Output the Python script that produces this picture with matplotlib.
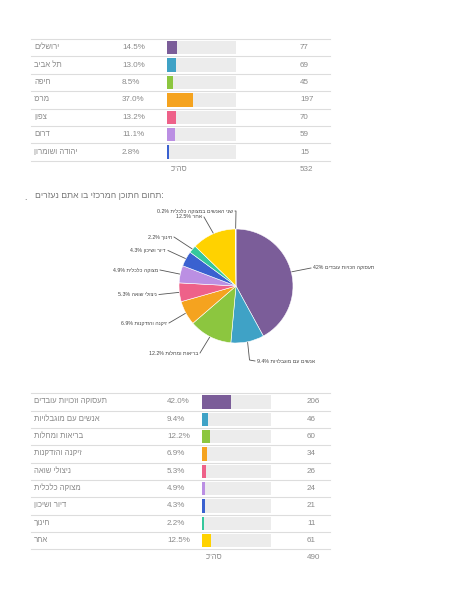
import numpy as np
import matplotlib
matplotlib.use('Agg')
import matplotlib.pyplot as plt

plt.rcParams['font.family'] = ['Liberation Sans', 'DejaVu Sans']

W, H = 463, 599

# --- data -------------------------------------------------------------
region_labels = ['ירושלים', 'תל אביב', 'חיפה', 'מרכז', 'צפון', 'דרום', 'יהודה ושומרון']
region_pcts = [14.5, 13.0, 8.5, 37.0, 13.2, 11.1, 2.8]
region_counts = [77, 69, 45, 197, 70, 59, 15]
region_total = 532
region_colors = ['#7b5d99', '#3fa2c6', '#8cc63f', '#f5a31f', '#ee6189', '#bb8fe3', '#3a61d0']

topic_labels = ['תעסוקה וזכויות עובדים', 'אנשים עם מוגבלויות', 'בריאות ומחלות',
                'זיקנה והזדקנות', 'ניצולי שואה', 'מצוקה כלכלית', 'דיור ושיכון',
                'חינוך', 'אחר']
topic_pcts = [42.0, 9.4, 12.2, 6.9, 5.3, 4.9, 4.3, 2.2, 12.5]
topic_counts = [206, 46, 60, 34, 26, 24, 21, 11, 61]
topic_total = 490
topic_colors = ['#7b5d99', '#3fa2c6', '#8cc63f', '#f5a31f', '#ee6189', '#bb8fe3',
                '#3a61d0', '#35c79c', '#ffd200']

pie_labels = topic_labels + ['שני האנשים במצוקה כלכלית']
pie_pcts = topic_pcts + [0.2]
pie_pct_text = ['42%', '9.4%', '12.2%', '6.9%', '5.3%', '4.9%', '4.3%', '2.2%', '12.5%', '0.2%']
pie_colors = topic_colors + ['#f2f2f2']

title_he = 'תחום התוכן המרכזי בו אתם נעזרים'
total_he = 'סה"כ'

# label layout for the pie (pixel positions: text x, text y, side, optional elbow)
pie_lbl_pos = [(313, 268, 'l', None), (257, 361, 'l', (249.5, 360)), (198, 353, 'r', None),
               (167, 323, 'r', None), (157, 294.5, 'r', None), (158, 270, 'r', None),
               (166, 250.5, 'r', None), (172, 237, 'r', None), (202, 217, 'r', None),
               (233, 211, 'r', (236, 211))]

TXT = '#8a8a8a'
LINE = '#dddddd'
BG = '#ececec'


def vis(s):
    # matplotlib has no bidi support: lay the Hebrew out in visual order
    return s[::-1]


fig = plt.figure(figsize=(W / 100, H / 100), dpi=100)
ax = fig.add_axes([0, 0, 1, 1])
ax.set_xlim(0, W)
ax.set_ylim(H, 0)
ax.axis('off')


def draw_table(top, row_h, labels, pcts, counts, total, colors, x_pct, bx0, bx1, x_cnt):
    n = len(labels)
    for i in range(n + 1):
        ax.plot([31, 330], [top + i * row_h] * 2, color=LINE, lw=0.8)
    for i in range(n):
        yc = top + (i + 0.5) * row_h
        ax.text(34, yc, vis(labels[i]), fontsize=5.6, color=TXT, ha='left', va='center')
        ax.text(x_pct, yc, '%.1f%%' % pcts[i], fontsize=5.8, color=TXT, ha='left', va='center')
        ax.text(x_cnt, yc, str(counts[i]), fontsize=5.8, color=TXT, ha='left', va='center')
    yf = top + n * row_h + 8.5
    ax.text(bx0 + 4, yf, vis(total_he), fontsize=5.6, color=TXT, ha='left', va='center')
    ax.text(x_cnt, yf, str(total), fontsize=5.8, color=TXT, ha='left', va='center')
    bax = fig.add_axes([bx0 / W, 1 - (top + n * row_h) / H, (bx1 - bx0) / W, n * row_h / H])
    rows = np.arange(n)
    bax.barh(rows, [100] * n, height=0.78, color=BG)
    bax.barh(rows, pcts, height=0.78, color=colors)
    bax.set_xlim(0, 100)
    bax.set_ylim(n - 0.5, -0.5)
    bax.axis('off')


draw_table(39, 17.4, region_labels, region_pcts, region_counts, region_total,
           region_colors, 122, 167, 236, 300)
draw_table(393.3, 17.33, topic_labels, topic_pcts, topic_counts, topic_total,
           topic_colors, 167, 202, 270.5, 307)

# --- title --------------------------------------------------------------
ax.text(164, 196, vis(title_he) + ':', fontsize=6.2, color='#777777', ha='right', va='center')
ax.text(24, 197, '.', fontsize=6.2, color='#777777', ha='left', va='center')

# --- pie ------------------------------------------------------------------
cx, cy, R = 236, 286, 57
pax = fig.add_axes([(cx - R) / W, 1 - (cy + R) / H, 2 * R / W, 2 * R / H])
wedges, _ = pax.pie(pie_pcts, colors=pie_colors, startangle=90, counterclock=False,
                    radius=1, wedgeprops=dict(edgecolor='white', linewidth=0.4))
pax.set_xlim(-1, 1)
pax.set_ylim(-1, 1)
pax.axis('off')

for w, lab, pt, (tx, ty, side, elbow) in zip(wedges, pie_labels, pie_pct_text, pie_lbl_pos):
    ang = np.deg2rad((w.theta1 + w.theta2) / 2)
    ex, ey = cx + R * np.cos(ang), cy - R * np.sin(ang)
    end_x = tx - 2 if side == 'l' else tx + 2
    xs, ys = [ex], [ey]
    if elbow is not None:
        xs.append(elbow[0]); ys.append(elbow[1])
    xs.append(end_x); ys.append(ty)
    ax.plot(xs, ys, color='#555555', lw=0.6)
    s = pt + ' ' + vis(lab)
    ax.text(tx, ty, s, fontsize=3.8, color='#444444', ha='left' if side == 'l' else 'right',
            va='center')

fig.savefig('out.png', dpi=100)
